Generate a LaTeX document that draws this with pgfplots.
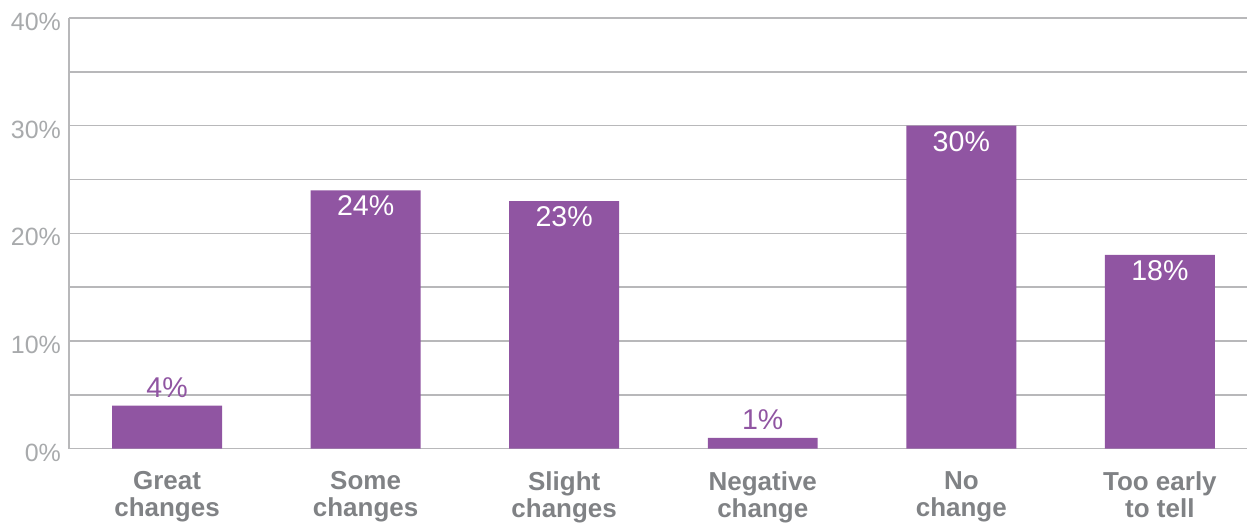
\documentclass[border=0pt]{standalone}
\usepackage{pgfplots}
\pgfplotsset{compat=1.18}
\usepackage{fontspec}
\setmainfont{Liberation Sans}
\usetikzlibrary{calc}

\definecolor{barpurple}{RGB}{144,85,162}
\definecolor{gridgrey}{RGB}{184,184,186}
\definecolor{ticktext}{RGB}{168,170,172}
\definecolor{cattext}{RGB}{128,130,133}

\pgfplotstableread{
x val
1 24
2 23
4 30
5 18
}\tallbars
\pgfplotstableread{
x val
0 4
3 1
}\shortbars

\begin{document}
\begin{tikzpicture}
\begin{axis}[
  scale only axis,
  width=589.5pt, height=215.5pt,
  xmin=-0.494, xmax=5.44,
  ymin=0, ymax=40,
  axis lines*=left,
  axis line style={gridgrey, line width=0.75pt},
  xtick={0,1,2,3,4,5},
  xticklabels={{Great\\changes},{Some\\changes},{Slight\\changes},{Negative\\change},{No\\change},{Too early\\to tell}},
  xticklabel style={align=center, text=cattext,
    font=\fontsize{13}{13.5}\selectfont\bfseries, yshift=-8pt},
  ytick={0,10,20,30,40},
  minor ytick={5,15,25,35},
  ymajorgrids, yminorgrids,
  major grid style={gridgrey, line width=0.75pt},
  minor grid style={gridgrey, line width=0.75pt},
  major tick length=0pt, minor tick length=0pt,
  yticklabel={\pgfmathprintnumber{\tick}\%},
  yticklabel style={text=ticktext, font=\fontsize{12.5}{14}\selectfont, xshift=-0.5pt, yshift=-2pt},
  /pgf/number format/assume math mode=true,
  ybar, bar width=55pt, bar shift=0pt,
  point meta=explicit,
  nodes near coords={\pgfmathprintnumber{\pgfplotspointmeta}\%},
  clip=false,
]
\addplot[fill=barpurple, draw=none,
  nodes near coords style={anchor=north, inner sep=0pt, yshift=-2.5pt,
    text=white, font=\fontsize{14.3}{16}\selectfont}]
  table[x=x, y=val, meta=val] {\tallbars};
\addplot[fill=barpurple, draw=none,
  nodes near coords style={anchor=south, inner sep=0pt, yshift=4pt,
    text=barpurple, font=\fontsize{14.3}{16}\selectfont}]
  table[x=x, y=val, meta=val] {\shortbars};
\end{axis}
\path[use as bounding box] ($(current axis.south west)+(-34.5pt,-35pt)$)
  rectangle ($(current axis.north east)+(0pt,9pt)$);
\end{tikzpicture}
\end{document}
